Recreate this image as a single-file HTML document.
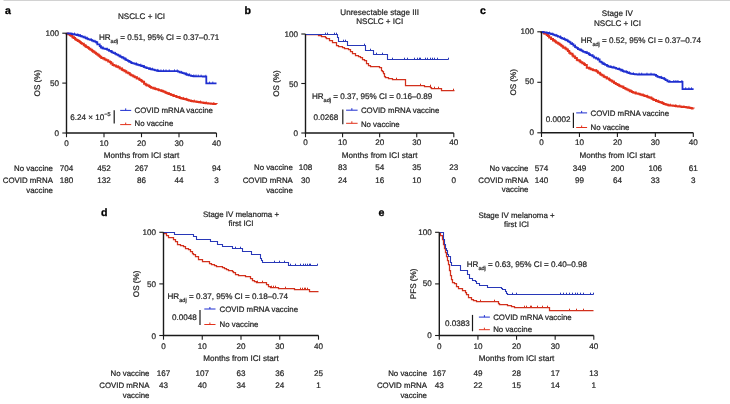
<!DOCTYPE html>
<html><head><meta charset="utf-8"><style>
html,body{margin:0;padding:0;background:#fff;width:730px;height:404px;overflow:hidden}
svg{display:block;text-rendering:geometricPrecision;filter:blur(0.2px)}
.t{font-family:"Liberation Sans", Arial, Helvetica, sans-serif;font-size:8.1px;fill:#262626;stroke:#262626;stroke-width:0.22px}
.lab{font-family:"Liberation Sans", Arial, Helvetica, sans-serif;font-size:10.6px;font-weight:bold;fill:#000;stroke:#000;stroke-width:0.3px}
.sub{font-size:5.6px}
.mid{text-anchor:middle}
.rl{font-size:7.85px}
.end{text-anchor:end}
</style></head><body>
<svg width="730" height="404" viewBox="0 0 730 404">
<rect x="0" y="0" width="730" height="404" fill="#fff"/>
<rect x="3.5" y="0" width="726.5" height="1" fill="#d2d2d2"/>
<g id="pa"><text x="5" y="13.8" class="lab">a</text>
<text x="141.5" y="19" class="t mid">NSCLC + ICI</text>
<text x="39.7" y="83.1" class="t mid" transform="rotate(-90 39.7 83.1)">OS (%)</text>
<path d="M66.5,33.2 66.5,33.52 68.19,33.52 68.19,34.32 69.82,34.32 69.82,34.9 70.7,34.9 70.7,35.2 70.7,35.66 72.43,35.66 72.43,37.24 73.64,37.24 73.64,37.95 75.1,37.95 75.1,38.6 75.1,39.23 76.33,39.23 76.33,39.94 77.72,39.94 77.72,41.07 79.52,41.07 79.52,42.1 80.7,42.1 80.7,42.5 80.7,43.03 81.8,43.03 81.8,43.8 83.79,43.8 83.79,45.14 85.23,45.14 85.23,46.14 86.3,46.14 86.3,46.4 86.3,47.06 87.8,47.06 87.8,47.66 88.96,47.66 88.96,48.79 90.41,48.79 90.41,49.66 91.9,49.66 91.9,50.3 91.9,50.79 92.94,50.79 92.94,51.84 94.64,51.84 94.64,52.69 95.98,52.69 95.98,53.75 97.4,53.75 97.4,54.2 97.4,54.69 98.62,54.69 98.62,55.77 99.85,55.77 99.85,56.87 101.3,56.87 101.3,57.5 101.3,58.08 103.09,58.08 103.09,58.58 104.59,58.58 104.59,59.43 106.3,59.43 106.3,59.8 106.3,60.2 108.2,60.2 108.2,61.44 109.96,61.44 109.96,62.06 110.8,62.06 110.8,62.5 110.8,63.41 112.66,63.41 112.66,64.89 114.1,64.89 114.1,65.3 114.1,65.56 115.87,65.56 115.87,66.31 116.69,66.31 116.69,66.82 118.23,66.82 118.23,67.22 119.7,67.22 119.7,67.6 119.7,68.59 121.79,68.59 121.79,69.66 123.08,69.66 123.08,70.23 124.5,70.23 124.5,70.9 124.5,71.33 126.27,71.33 126.27,72.62 128.19,72.62 128.19,73.32 129.78,73.32 129.78,74.44 131.1,74.44 131.1,74.8 131.1,75.19 132.64,75.19 132.64,75.63 133.49,75.63 133.49,76.51 134.86,76.51 134.86,77.24 136.7,77.24 136.7,77.6 136.7,78.51 139.14,78.51 139.14,79.39 140.14,79.39 140.14,80.05 141.41,80.05 141.41,80.88 142.3,80.88 142.3,81.2 142.3,81.75 144.08,81.75 144.08,83.72 145.74,83.72 145.74,84.63 146.7,84.63 146.7,85 146.7,85.51 148.97,85.51 148.97,86.18 150.09,86.18 150.09,87.05 151.15,87.05 151.15,87.72 153.4,87.72 153.4,88.2 153.4,88.57 155.31,88.57 155.31,88.9 156.17,88.9 156.17,89.31 158.17,89.31 158.17,89.78 159,89.78 159,89.9 159,90.27 161.33,90.27 161.33,90.91 162.59,90.91 162.59,91.36 163.62,91.36 163.62,91.85 165.3,91.85 165.3,92.3 165.3,92.46 166.36,92.46 166.36,92.98 167.58,92.98 167.58,93.39 168.8,93.39 168.8,94.07 170.7,94.07 170.7,94.5 170.7,94.68 171.61,94.68 171.61,94.99 172.93,94.99 172.93,95.46 173.83,95.46 173.83,96.11 176,96.11 176,96.4 176,96.62 176.85,96.62 176.85,96.97 178.7,96.97 178.7,97.52 180.01,97.52 180.01,98.01 181.4,98.01 181.4,98.2 181.4,98.44 183.02,98.44 183.02,98.73 183.93,98.73 183.93,99.03 185.39,99.03 185.39,99.35 186.7,99.35 186.7,99.6 186.7,99.68 187.76,99.68 187.76,99.95 188.73,99.95 188.73,100.52 190.82,100.52 190.82,100.99 192.1,100.99 192.1,101.1 192.1,101.21 193.88,101.21 193.88,101.38 195.07,101.38 195.07,101.56 196.19,101.56 196.19,101.7 197.4,101.7 197.4,101.8 197.4,101.99 199.07,101.99 199.07,102.2 200.75,102.2 200.75,102.44 201.95,102.44 201.95,102.57 202.8,102.57 202.8,102.7 202.8,102.79 204.11,102.79 204.11,102.93 205.56,102.93 205.56,103.14 207.06,103.14 207.06,103.3 208.1,103.3 208.1,103.4 208.1,103.47 209.77,103.47 209.77,103.59 210.77,103.59 210.77,103.67 211.74,103.67 211.74,103.77 213.23,103.77 213.23,103.9 214.59,103.9 214.59,104.01 216.6,104.01 216.6,104.1" fill="none" stroke="#e2321c" stroke-width="2.0" stroke-linejoin="miter"/>
<path d="M74.5,38.14v-1.8M79.16,41.43v-1.8M86.17,46.31v-1.8M94.02,51.81v-1.8M99,55.56v-1.8M104.01,58.75v-1.8M111.75,63.3v-1.8M118.37,67.05v-1.8M122.22,69.33v-1.8M125.85,71.7v-1.8M129.61,73.92v-1.8M137.13,77.88v-1.8M144.17,82.81v-1.8M147.9,85.57v-1.8M155.03,88.69v-1.8M162.93,91.4v-1.8M169.22,93.9v-1.8M173.97,95.67v-1.8M179.71,97.64v-1.8M183.37,98.72v-1.8M186.44,99.53v-1.8M194.29,101.39v-1.8M200.54,102.32v-1.8M206.18,103.15v-1.8M213.84,103.87v-1.8" stroke="#e2321c" stroke-width="0.9" fill="none"/>
<path d="M66.5,33.2 66.5,33.28 67.81,33.28 67.81,33.36 68.92,33.36 68.92,33.52 70.7,33.52 70.7,33.6 70.7,33.7 71.94,33.7 71.94,34.1 73.61,34.1 73.61,34.29 75.1,34.29 75.1,34.5 75.1,34.68 76.56,34.68 76.56,35.02 78.56,35.02 78.56,35.5 79.6,35.5 79.6,35.6 79.6,35.78 80.93,35.78 80.93,36.27 82.06,36.27 82.06,36.68 83.5,36.68 83.5,36.9 83.5,37.3 84.75,37.3 84.75,37.68 85.85,37.68 85.85,38.31 87.4,38.31 87.4,38.6 87.4,38.9 88.27,38.9 88.27,39.37 90.13,39.37 90.13,39.9 91.9,39.9 91.9,40.3 91.9,40.63 93.41,40.63 93.41,41.33 95.41,41.33 95.41,41.97 96.3,41.97 96.3,42.3 96.3,42.51 97.34,42.51 97.34,44.36 99.7,44.36 99.7,45.8 99.7,46.03 100.76,46.03 100.76,47.51 102.4,47.51 102.4,48.3 102.4,48.42 103.49,48.42 103.49,48.56 104.93,48.56 104.93,48.79 106.3,48.79 106.3,48.9 106.3,49.04 107.34,49.04 107.34,49.81 109.03,49.81 109.03,50.8 110.8,50.8 110.8,51.4 110.8,51.51 111.95,51.51 111.95,52.33 113.5,52.33 113.5,53.13 115.2,53.13 115.2,53.92 116.4,53.92 116.4,54.2 116.4,54.72 118.07,54.72 118.07,55.32 119.44,55.32 119.44,56.33 120.61,56.33 120.61,56.95 121.9,56.95 121.9,57.2 121.9,57.66 123.64,57.66 123.64,58.5 125.27,58.5 125.27,59.53 126.4,59.53 126.4,59.8 126.4,60.06 127.78,60.06 127.78,60.97 129.17,60.97 129.17,61.78 130.9,61.78 130.9,62.5 130.9,62.56 131.95,62.56 131.95,63.12 133.32,63.12 133.32,63.47 134.58,63.47 134.58,63.84 136.4,63.84 136.4,64.2 136.4,64.48 137.76,64.48 137.76,64.95 139.3,64.95 139.3,65.31 140.87,65.31 140.87,65.73 142,65.73 142,65.9 142,66 142.98,66 142.98,66.35 143.99,66.35 143.99,67.08 145.4,67.08 145.4,67.49 146.68,67.49 146.68,68.07 148.9,68.07 148.9,68.6 148.9,68.84 150.33,68.84 150.33,69.08 151.06,69.08 151.06,69.27 152.47,69.27 152.47,69.72 154.5,69.72 154.5,70 154.5,70.07 155.38,70.07 155.38,70.33 157.05,70.33 157.05,70.74 158.41,70.74 158.41,71.09 160.1,71.09 160.1,71.2 166,71.2 178,71.2 178,71.67 179.68,71.67 179.68,72.34 181.3,72.34 181.3,72.6 181.3,72.68 182.53,72.68 182.53,73.12 184.25,73.12 184.25,73.64 185.7,73.64 185.7,73.9 185.7,74.23 186.87,74.23 186.87,74.76 188.7,74.76 188.7,75.45 190.94,75.45 190.94,75.91 192.4,75.91 192.4,76.2 192.4,76.22 193.53,76.22 193.53,76.24 194.67,76.24 194.67,76.28 195.77,76.28 195.77,76.32 196.88,76.32 196.88,76.36 198.64,76.36 198.64,76.42 200.84,76.42 200.84,76.47 202.95,76.47 202.95,76.52 204.49,76.52 204.49,76.58 206.3,76.58 206.3,76.6 206.3,83.4 216.5,83.4" fill="none" stroke="#1f2fd0" stroke-width="1.8" stroke-linejoin="miter"/>
<path d="M74.5,34.38v-1.8M77.8,35.16v-1.8M80.4,35.87v-1.8M85,37.55v-1.8M87.29,38.55v-1.8M91.44,40.12v-1.8M94.9,41.66v-1.8M97.13,43.15v-1.8M101.16,47.15v-1.8M103.31,48.44v-1.8M107.04,49.31v-1.8M109.32,50.58v-1.8M111.69,51.84v-1.8M115.39,53.69v-1.8M120.69,56.54v-1.8M123.19,57.94v-1.8M126.08,59.62v-1.8M130.59,62.31v-1.8M136.38,64.19v-1.8M140.69,65.5v-1.8M144.28,66.79v-1.8M150.18,68.92v-1.8M152.37,69.47v-1.8M157.8,70.71v-1.8M160.96,71.2v-1.8M163.54,71.2v-1.8M166.01,71.2v-1.8M169.24,71.2v-1.8M174.51,71.2v-1.8M177.23,71.2v-1.8M181.56,72.68v-1.8M186.11,74.04v-1.8M189.6,75.24v-1.8M193.79,76.24v-1.8M196.04,76.3v-1.8M198.28,76.37v-1.8M201.11,76.45v-1.8M205.83,76.59v-1.8M209.54,83.4v-1.8M212.79,83.4v-1.8" stroke="#1f2fd0" stroke-width="0.9" fill="none"/>
<path d="M66.5,33.2V133H216.5" fill="none" stroke="#1a1a1a" stroke-width="1.4"/>
<path d="M62.3,133H66.5" stroke="#1a1a1a" stroke-width="1.1"/>
<text x="59" y="136" class="t end">0</text>
<path d="M62.3,83.1H66.5" stroke="#1a1a1a" stroke-width="1.1"/>
<text x="59" y="86.1" class="t end">50</text>
<path d="M62.3,33.2H66.5" stroke="#1a1a1a" stroke-width="1.1"/>
<text x="59" y="36.2" class="t end">100</text>
<path d="M66.5,133V137.2" stroke="#1a1a1a" stroke-width="1.1"/>
<text x="66.5" y="145.6" class="t mid">0</text>
<text x="66.5" y="170.5" class="t mid">704</text>
<text x="66.5" y="182.7" class="t mid">180</text>
<path d="M104,133V137.2" stroke="#1a1a1a" stroke-width="1.1"/>
<text x="104" y="145.6" class="t mid">10</text>
<text x="104" y="170.5" class="t mid">452</text>
<text x="104" y="182.7" class="t mid">132</text>
<path d="M141.5,133V137.2" stroke="#1a1a1a" stroke-width="1.1"/>
<text x="141.5" y="145.6" class="t mid">20</text>
<text x="141.5" y="170.5" class="t mid">267</text>
<text x="141.5" y="182.7" class="t mid">86</text>
<path d="M179,133V137.2" stroke="#1a1a1a" stroke-width="1.1"/>
<text x="179" y="145.6" class="t mid">30</text>
<text x="179" y="170.5" class="t mid">151</text>
<text x="179" y="182.7" class="t mid">44</text>
<path d="M216.5,133V137.2" stroke="#1a1a1a" stroke-width="1.1"/>
<text x="216.5" y="145.6" class="t mid">40</text>
<text x="216.5" y="170.5" class="t mid">94</text>
<text x="216.5" y="182.7" class="t mid">3</text>
<text x="141.5" y="157.8" class="t mid">Months from ICI start</text>
<text x="52.9" y="170.5" class="t end rl">No vaccine</text>
<text x="52.9" y="182.7" class="t end rl">COVID mRNA</text>
<text x="52.9" y="192.6" class="t end rl">vaccine</text>
<text x="98.9" y="39.6" class="t">HR<tspan class="sub" dy="3">adj</tspan><tspan dy="-3"> = 0.51, 95% CI = 0.37–0.71</tspan></text>
<text x="70.2" y="119.8" class="t">6.24 × 10<tspan class="sub" dy="-4.2">−5</tspan></text>
<path d="M114.2,110.2V123.4" stroke="#1a1a1a" stroke-width="1.2"/>
<path d="M120.2,110.4H131.2M125.7,110.4v-2" fill="none" stroke="#1f2fd0" stroke-width="1"/>
<path d="M120.2,124.6H131.2M125.7,124.6v-2" fill="none" stroke="#e2321c" stroke-width="1"/>
<text x="134.5" y="113" class="t rl">COVID mRNA vaccine</text>
<text x="134.5" y="126.3" class="t rl">No vaccine</text></g>
<g id="pb"><text x="244.5" y="14" class="lab">b</text>
<text x="379.65" y="14.6" class="t mid">Unresectable stage III</text>
<text x="379.65" y="23.6" class="t mid">NSCLC + ICI</text>
<text x="279" y="83.5" class="t mid" transform="rotate(-90 279 83.5)">OS (%)</text>
<path d="M305.5,34.5 318.5,34.5 318.5,35.5 320.5,35.5 320.5,35.5 320.5,35.5 321.5,35.5 321.5,36.5 325.5,36.5 325.5,36.5 325.5,37.5 326.5,37.5 326.5,37.5 326.5,38.5 329.5,38.5 329.5,39.5 329.5,40.5 332.5,40.5 332.5,41.5 332.5,42.5 336.5,42.5 336.5,43.5 336.5,45.5 338.5,45.5 338.5,46.5 338.5,46.5 340.5,46.5 340.5,46.5 342.5,46.5 342.5,46.5 342.5,47.5 344.5,47.5 344.5,48.5 344.5,48.5 346.5,48.5 346.5,48.5 348.5,48.5 348.5,49.5 348.5,49.5 350.5,49.5 350.5,50.5 350.5,51.5 352.5,51.5 352.5,52.5 352.5,53.5 355.5,53.5 355.5,55.5 355.5,55.5 358.5,55.5 358.5,56.5 358.5,56.5 360.5,56.5 360.5,57.5 362.5,57.5 362.5,58.5 362.5,59.5 364.5,59.5 364.5,60.5 364.5,60.5 366.5,60.5 366.5,62.5 366.5,63.5 368.5,63.5 368.5,64.5 368.5,65.5 370.5,65.5 370.5,66.5 372.5,66.5 372.5,66.5 379.5,66.5 379.5,67.5 381.5,67.5 381.5,68.5 381.5,70.5 382.5,70.5 382.5,71.5 382.5,71.5 383.5,71.5 383.5,73.5 384.5,73.5 384.5,75.5 384.5,76.5 385.5,76.5 385.5,76.5 385.5,77.5 388.5,77.5 388.5,77.5 388.5,78.5 392.5,78.5 392.5,79.5 405.5,79.5 405.5,85.5 423.5,85.5 423.5,85.5 424.5,85.5 424.5,86.5 430.5,86.5 430.5,87.5 431.5,87.5 431.5,88.5 441.5,88.5 441.5,90.5 454.5,90.5" fill="none" stroke="#d2301c" stroke-width="1.25" stroke-linejoin="miter"/>
<path d="M396.5,79.5v-1.8M420.5,85.5v-1.8M430.5,86.5v-1.8M434.5,88.5v-1.8M438.5,88.5v-1.8M453.5,90.5v-1.8" stroke="#d2301c" stroke-width="1" fill="none"/>
<path d="M305.5,34.5 337.5,34.5 337.5,37.5 338.5,37.5 338.5,41.5 347.5,41.5 347.5,45.5 365.5,45.5 365.5,50.5 373.5,50.5 373.5,54.5 387.5,54.5 387.5,59.5 448.5,59.5" fill="none" stroke="#2838b8" stroke-width="1.1" stroke-linejoin="miter"/>
<path d="M325.5,34.5v-1.8M327.5,34.5v-1.8M334.5,34.5v-1.8M336.5,34.5v-1.8M343.5,41.5v-1.8M345.5,41.5v-1.8M364.5,45.5v-1.8M370.5,50.5v-1.8M376.5,54.5v-1.8M382.5,54.5v-1.8M392.5,59.5v-1.8M404.5,59.5v-1.8M407.5,59.5v-1.8M414.5,59.5v-1.8M417.5,59.5v-1.8M419.5,59.5v-1.8M420.5,59.5v-1.8M425.5,59.5v-1.8M427.5,59.5v-1.8M430.5,59.5v-1.8M432.5,59.5v-1.8M434.5,59.5v-1.8M437.5,59.5v-1.8M448.5,59.5v-1.8" stroke="#2838b8" stroke-width="1" fill="none"/>
<path d="M305.5,34V133H453.8" fill="none" stroke="#1a1a1a" stroke-width="1.4"/>
<path d="M301.3,133H305.5" stroke="#1a1a1a" stroke-width="1.1"/>
<text x="298" y="136.2" class="t end">0</text>
<path d="M301.3,83.5H305.5" stroke="#1a1a1a" stroke-width="1.1"/>
<text x="298" y="86.7" class="t end">50</text>
<path d="M301.3,34H305.5" stroke="#1a1a1a" stroke-width="1.1"/>
<text x="298" y="37.2" class="t end">100</text>
<path d="M305.5,133V137.2" stroke="#1a1a1a" stroke-width="1.1"/>
<text x="305.5" y="145.4" class="t mid">0</text>
<text x="305.5" y="170.3" class="t mid">108</text>
<text x="305.5" y="182.6" class="t mid">30</text>
<path d="M342.57,133V137.2" stroke="#1a1a1a" stroke-width="1.1"/>
<text x="342.57" y="145.4" class="t mid">10</text>
<text x="342.57" y="170.3" class="t mid">83</text>
<text x="342.57" y="182.6" class="t mid">24</text>
<path d="M379.65,133V137.2" stroke="#1a1a1a" stroke-width="1.1"/>
<text x="379.65" y="145.4" class="t mid">20</text>
<text x="379.65" y="170.3" class="t mid">54</text>
<text x="379.65" y="182.6" class="t mid">16</text>
<path d="M416.73,133V137.2" stroke="#1a1a1a" stroke-width="1.1"/>
<text x="416.73" y="145.4" class="t mid">30</text>
<text x="416.73" y="170.3" class="t mid">35</text>
<text x="416.73" y="182.6" class="t mid">10</text>
<path d="M453.8,133V137.2" stroke="#1a1a1a" stroke-width="1.1"/>
<text x="453.8" y="145.4" class="t mid">40</text>
<text x="453.8" y="170.3" class="t mid">23</text>
<text x="453.8" y="182.6" class="t mid">0</text>
<text x="379.65" y="157.7" class="t mid">Months from ICI start</text>
<text x="292.8" y="170.3" class="t end rl">No vaccine</text>
<text x="292.8" y="182.6" class="t end rl">COVID mRNA</text>
<text x="292.8" y="192.7" class="t end rl">vaccine</text>
<text x="311.9" y="98.7" class="t">HR<tspan class="sub" dy="3">adj</tspan><tspan dy="-3"> = 0.37, 95% CI = 0.16–0.89</tspan></text>
<text x="313.5" y="120.1" class="t">0.0268</text>
<path d="M342.8,109.4V124.2" stroke="#1a1a1a" stroke-width="1.2"/>
<path d="M346.1,110.2H357.6M351.85,110.2v-2" fill="none" stroke="#1f2fd0" stroke-width="1"/>
<path d="M346.1,123.3H357.6M351.85,123.3v-2" fill="none" stroke="#e2321c" stroke-width="1"/>
<text x="360.9" y="112.7" class="t rl">COVID mRNA vaccine</text>
<text x="360.9" y="126.6" class="t rl">No vaccine</text></g>
<g id="pc"><text x="480.1" y="13.9" class="lab">c</text>
<text x="617.4" y="15.6" class="t mid">Stage IV</text>
<text x="617.4" y="25.8" class="t mid">NSCLC + ICI</text>
<text x="516.2" y="82.3" class="t mid" transform="rotate(-90 516.2 82.3)">OS (%)</text>
<path d="M541.5,31.8 541.5,32.27 544.02,32.27 544.02,33.41 545.15,33.41 545.15,33.7 546.7,33.7 546.7,34.2 546.7,35 547.91,35 547.91,36.07 549.14,36.07 549.14,37.38 551.1,37.38 551.1,38.1 551.1,39.1 552.99,39.1 552.99,40.48 554.79,40.48 554.79,41.22 555.84,41.22 555.84,42.35 556.7,42.35 556.7,42.6 556.7,42.84 558.21,42.84 558.21,43.84 559.72,43.84 559.72,44.74 561.15,44.74 561.15,45.75 562.3,45.75 562.3,45.9 562.3,46.47 563.26,46.47 563.26,47.75 565.5,47.75 565.5,48.87 566.59,48.87 566.59,49.62 567.9,49.62 567.9,50.4 567.9,50.99 569.25,50.99 569.25,52.67 570.46,52.67 570.46,53.69 572.44,53.69 572.44,55.45 573.4,55.45 573.4,56 573.4,56.46 575.13,56.46 575.13,58.11 576.8,58.11 576.8,59.3 576.8,59.71 577.58,59.71 577.58,60.32 579.54,60.32 579.54,61.22 580.58,61.22 580.58,62.36 582.3,62.36 582.3,62.7 582.3,63.19 583.92,63.19 583.92,64.17 585.03,64.17 585.03,65.08 586.8,65.08 586.8,66 586.8,67.63 589,67.63 589,68.3 589,68.52 590.65,68.52 590.65,69.25 592.74,69.25 592.74,69.89 593.5,69.89 593.5,69.9 593.5,70.17 595.55,70.17 595.55,70.77 596.8,70.77 596.8,71 596.8,71.61 598.04,71.61 598.04,72.84 599.82,72.84 599.82,73.84 600.67,73.84 600.67,74.72 602.3,74.72 602.3,75.3 602.3,75.6 603.76,75.6 603.76,76.72 605.2,76.72 605.2,77.37 606.72,77.37 606.72,78.42 608.98,78.42 608.98,79.38 610,79.38 610,79.9 610,80.18 611.28,80.18 611.28,80.79 612.29,80.79 612.29,81.65 614.1,81.65 614.1,82.89 615.78,82.89 615.78,84.05 617.6,84.05 617.6,84.5 617.6,84.97 619.09,84.97 619.09,85.68 620.25,85.68 620.25,86.27 621.69,86.27 621.69,86.87 623.45,86.87 623.45,88.06 625.3,88.06 625.3,88.4 625.3,88.63 626.61,88.63 626.61,89.38 628.37,89.38 628.37,90.14 629.81,90.14 629.81,91.27 631.85,91.27 631.85,91.95 633,91.95 633,92.2 633,92.46 634.27,92.46 634.27,92.83 635.64,92.83 635.64,93.46 637.93,93.46 637.93,93.84 639.48,93.84 639.48,94.32 640.6,94.32 640.6,94.5 640.6,94.69 642.48,94.69 642.48,95.27 644.39,95.27 644.39,96.04 646.4,96.04 646.4,96.37 647.17,96.37 647.17,96.73 648.3,96.73 648.3,96.8 648.3,97.29 649.59,97.29 649.59,97.78 651.6,97.78 651.6,98.81 653,98.81 653,99.44 654.12,99.44 654.12,100.03 656,100.03 656,100.6 656,100.97 657.78,100.97 657.78,101.56 659.1,101.56 659.1,101.96 660.55,101.96 660.55,102.47 662.1,102.47 662.1,102.9 662.1,103.09 663.54,103.09 663.54,103.91 665.59,103.91 665.59,104.46 666.79,104.46 666.79,104.81 668.2,104.81 668.2,105.2 668.2,105.23 669.28,105.23 669.28,105.41 670.89,105.41 670.89,105.57 672.78,105.57 672.78,105.77 674.84,105.77 674.84,105.93 675.9,105.93 675.9,106 675.9,106.13 678.05,106.13 678.05,106.39 679.25,106.39 679.25,106.58 680.83,106.58 680.83,106.7 682.1,106.7 682.1,106.8 682.1,106.91 683.46,106.91 683.46,107.09 685.85,107.09 685.85,107.34 687.22,107.34 687.22,107.44 688.2,107.44 688.2,107.5 688.2,107.72 690.32,107.72 690.32,108.1 691.79,108.1 691.79,108.39 692.81,108.39 692.81,108.46 693.6,108.46 693.6,108.6" fill="none" stroke="#e2321c" stroke-width="2.0" stroke-linejoin="miter"/>
<path d="M549.5,36.68v-1.8M554.6,40.91v-1.8M558.89,43.89v-1.8M565.22,48.25v-1.8M572.85,55.44v-1.8M576.98,59.41v-1.8M580.15,61.37v-1.8M584.84,64.57v-1.8M589.95,68.64v-1.8M596.36,70.85v-1.8M600.35,73.78v-1.8M607.33,78.31v-1.8M614.03,82.34v-1.8M619.55,85.49v-1.8M623.58,87.53v-1.8M631.43,91.43v-1.8M635.99,93.1v-1.8M643.09,95.24v-1.8M647.24,96.48v-1.8M651.35,98.31v-1.8M658.15,101.41v-1.8M662.63,103.1v-1.8M670.39,105.43v-1.8M675.87,106v-1.8M679.8,106.5v-1.8M683.92,107.01v-1.8M689,107.66v-1.8" stroke="#e2321c" stroke-width="0.9" fill="none"/>
<path d="M541.5,31.8 541.5,31.96 543.1,31.96 543.1,32.29 545.72,32.29 545.72,32.47 546.7,32.47 546.7,32.6 546.7,32.78 548.25,32.78 548.25,33.23 549.57,33.23 549.57,33.65 551.1,33.65 551.1,33.9 551.1,34.16 553.02,34.16 553.02,34.64 554.41,34.64 554.41,35.05 555.51,35.05 555.51,35.58 556.7,35.58 556.7,35.7 556.7,35.96 557.88,35.96 557.88,36.57 560.03,36.57 560.03,37.33 561.15,37.33 561.15,37.99 562.3,37.99 562.3,38.1 562.3,38.62 563.78,38.62 563.78,39.21 565.18,39.21 565.18,39.92 566.39,39.92 566.39,40.36 567.9,40.36 567.9,40.9 567.9,41.32 569.38,41.32 569.38,42.13 570.52,42.13 570.52,43.5 572.03,43.5 572.03,44.13 573.4,44.13 573.4,44.8 573.4,45.68 575.07,45.68 575.07,47.19 576.53,47.19 576.53,47.95 577.9,47.95 577.9,48.7 577.9,49.1 579.59,49.1 579.59,49.76 580.76,49.76 580.76,50.47 582.3,50.47 582.3,51 582.3,51.11 583.32,51.11 583.32,51.83 585.36,51.83 585.36,52.48 586.8,52.48 586.8,52.6 586.8,53.13 588.71,53.13 588.71,54.27 590,54.27 590,55 590,55.14 591.41,55.14 591.41,55.44 592.4,55.44 592.4,55.6 592.4,56.38 594.01,56.38 594.01,57.55 596.1,57.55 596.1,58.4 596.1,58.6 597.9,58.6 597.9,58.8 597.9,59.5 599.63,59.5 599.63,61.71 601.29,61.71 601.29,62.46 602.4,62.46 602.4,63.3 602.4,63.5 603.69,63.5 603.69,64.16 605.15,64.16 605.15,64.9 606.9,64.9 606.9,65.4 606.9,65.97 608.4,65.97 608.4,66.6 608.4,66.65 609.79,66.65 609.79,66.82 611.08,66.82 611.08,67.04 612.4,67.04 612.4,67.1 612.4,67.51 614.58,67.51 614.58,67.97 616.1,67.97 616.1,68.4 616.1,68.69 618,68.69 618,68.8 618,69.01 619.57,69.01 619.57,69.68 621.17,69.68 621.17,70.48 622.91,70.48 622.91,71.07 623.8,71.07 623.8,71.2 623.8,71.52 625.62,71.52 625.62,71.96 627.16,71.96 627.16,72.67 628.6,72.67 628.6,73.05 630.19,73.05 630.19,73.7 631.4,73.7 631.4,73.8 631.4,73.93 633.53,73.93 633.53,74.14 635.03,74.14 635.03,74.24 636.2,74.24 636.2,74.38 637.6,74.38 637.6,74.5 654.4,74.5 654.4,74.91 655.91,74.91 655.91,75.78 657.5,75.78 657.5,76.4 657.5,76.84 659.49,76.84 659.49,77.24 660.41,77.24 660.41,77.69 661.86,77.69 661.86,78.11 663.6,78.11 663.6,78.4 663.6,78.62 664.56,78.62 664.56,79.11 665.53,79.11 665.53,80.21 667.43,80.21 667.43,81.38 669,81.38 669,81.8 682.5,81.8 682.5,89.1 693.6,89.1" fill="none" stroke="#1f2fd0" stroke-width="1.8" stroke-linejoin="miter"/>
<path d="M549.5,33.43v-1.8M552.66,34.4v-1.8M556.73,35.71v-1.8M560.59,37.37v-1.8M564.45,39.18v-1.8M566.93,40.41v-1.8M572.5,44.16v-1.8M575.3,46.45v-1.8M581.21,50.43v-1.8M586.96,52.72v-1.8M589.03,54.27v-1.8M592.86,55.95v-1.8M598.14,59.04v-1.8M604.01,64.05v-1.8M607.81,66.13v-1.8M610.89,66.91v-1.8M613.73,67.57v-1.8M619.51,69.42v-1.8M622.35,70.6v-1.8M626.68,72.18v-1.8M629.24,73.06v-1.8M633.34,74.02v-1.8M639.15,74.5v-1.8M641.68,74.5v-1.8M646.96,74.5v-1.8M651,74.5v-1.8M656.55,75.81v-1.8M661.36,77.67v-1.8M664.28,78.83v-1.8M669.88,81.8v-1.8M673.82,81.8v-1.8M675.92,81.8v-1.8M677.93,81.8v-1.8M681.9,81.8v-1.8M685.7,89.1v-1.8M688.91,89.1v-1.8M691.47,89.1v-1.8" stroke="#1f2fd0" stroke-width="0.9" fill="none"/>
<path d="M541.5,31.8V132.8H693.3" fill="none" stroke="#1a1a1a" stroke-width="1.4"/>
<path d="M537.3,132.8H541.5" stroke="#1a1a1a" stroke-width="1.1"/>
<text x="534" y="134.7" class="t end">0</text>
<path d="M537.3,82.3H541.5" stroke="#1a1a1a" stroke-width="1.1"/>
<text x="534" y="84.2" class="t end">50</text>
<path d="M537.3,31.8H541.5" stroke="#1a1a1a" stroke-width="1.1"/>
<text x="534" y="33.7" class="t end">100</text>
<path d="M541.5,132.8V137" stroke="#1a1a1a" stroke-width="1.1"/>
<text x="541.5" y="145.1" class="t mid">0</text>
<text x="541.5" y="171" class="t mid">574</text>
<text x="541.5" y="183" class="t mid">140</text>
<path d="M579.45,132.8V137" stroke="#1a1a1a" stroke-width="1.1"/>
<text x="579.45" y="145.1" class="t mid">10</text>
<text x="579.45" y="171" class="t mid">349</text>
<text x="579.45" y="183" class="t mid">99</text>
<path d="M617.4,132.8V137" stroke="#1a1a1a" stroke-width="1.1"/>
<text x="617.4" y="145.1" class="t mid">20</text>
<text x="617.4" y="171" class="t mid">200</text>
<text x="617.4" y="183" class="t mid">64</text>
<path d="M655.35,132.8V137" stroke="#1a1a1a" stroke-width="1.1"/>
<text x="655.35" y="145.1" class="t mid">30</text>
<text x="655.35" y="171" class="t mid">106</text>
<text x="655.35" y="183" class="t mid">33</text>
<path d="M693.3,132.8V137" stroke="#1a1a1a" stroke-width="1.1"/>
<text x="693.3" y="145.1" class="t mid">40</text>
<text x="693.3" y="171" class="t mid">61</text>
<text x="693.3" y="183" class="t mid">3</text>
<text x="617.4" y="157.7" class="t mid">Months from ICI start</text>
<text x="528.4" y="171" class="t end rl">No vaccine</text>
<text x="528.4" y="183" class="t end rl">COVID mRNA</text>
<text x="528.4" y="192.4" class="t end rl">vaccine</text>
<text x="580.7" y="43.4" class="t">HR<tspan class="sub" dy="3">adj</tspan><tspan dy="-3"> = 0.52, 95% CI = 0.37–0.74</tspan></text>
<text x="545.7" y="122" class="t">0.0002</text>
<path d="M573.4,112.7V128" stroke="#1a1a1a" stroke-width="1.2"/>
<path d="M576.2,112.9H587.1M581.65,112.9v-2" fill="none" stroke="#1f2fd0" stroke-width="1"/>
<path d="M576.2,127.5H587.1M581.65,127.5v-2" fill="none" stroke="#e2321c" stroke-width="1"/>
<text x="590.6" y="116" class="t rl">COVID mRNA vaccine</text>
<text x="590.6" y="129.7" class="t rl">No vaccine</text></g>
<g id="pd"><text x="100.9" y="215.9" class="lab">d</text>
<text x="241" y="217.1" class="t mid" style="font-size:7.9px">Stage IV melanoma +</text>
<text x="241" y="225.5" class="t mid" style="font-size:7.9px">first ICI</text>
<text x="138.8" y="283.9" class="t mid" transform="rotate(-90 138.8 283.9)">OS (%)</text>
<path d="M163.5,232.5 163.5,233.5 166.5,233.5 166.5,235.5 168.5,235.5 168.5,236.5 168.5,237.5 170.5,237.5 170.5,237.5 173.5,237.5 173.5,238.5 173.5,239.5 175.5,239.5 175.5,241.5 177.5,241.5 177.5,242.5 177.5,244.5 180.5,244.5 180.5,245.5 180.5,245.5 183.5,245.5 183.5,246.5 185.5,246.5 185.5,246.5 185.5,248.5 188.5,248.5 188.5,248.5 188.5,249.5 190.5,249.5 190.5,251.5 192.5,251.5 192.5,252.5 192.5,253.5 193.5,253.5 193.5,254.5 195.5,254.5 195.5,255.5 195.5,256.5 198.5,256.5 198.5,258.5 198.5,259.5 202.5,259.5 202.5,261.5 206.5,261.5 206.5,261.5 209.5,261.5 209.5,263.5 211.5,263.5 211.5,263.5 211.5,264.5 214.5,264.5 214.5,265.5 215.5,265.5 215.5,265.5 215.5,265.5 216.5,265.5 216.5,266.5 219.5,266.5 219.5,266.5 219.5,266.5 222.5,266.5 222.5,267.5 224.5,267.5 224.5,268.5 224.5,268.5 226.5,268.5 226.5,269.5 228.5,269.5 228.5,269.5 228.5,270.5 232.5,270.5 232.5,271.5 233.5,271.5 233.5,271.5 233.5,272.5 235.5,272.5 235.5,274.5 238.5,274.5 238.5,275.5 243.5,275.5 243.5,275.5 245.5,275.5 245.5,276.5 248.5,276.5 248.5,276.5 248.5,276.5 250.5,276.5 250.5,276.5 250.5,278.5 252.5,278.5 252.5,279.5 252.5,280.5 254.5,280.5 254.5,281.5 254.5,281.5 256.5,281.5 256.5,282.5 266.5,282.5 266.5,283.5 266.5,284.5 268.5,284.5 268.5,285.5 268.5,286.5 270.5,286.5 270.5,287.5 278.5,287.5 278.5,288.5 294.5,288.5 294.5,289.5 309.5,289.5 309.5,291.5 318.5,291.5" fill="none" stroke="#d2301c" stroke-width="1.25" stroke-linejoin="miter"/>
<path d="M257.5,282.5v-1.8M262.5,282.5v-1.8M271.5,287.5v-1.8M273.5,287.5v-1.8M275.5,287.5v-1.8M285.5,288.5v-1.8M300.5,289.5v-1.8M302.5,289.5v-1.8M304.5,289.5v-1.8M305.5,289.5v-1.8M307.5,289.5v-1.8" stroke="#d2301c" stroke-width="1" fill="none"/>
<path d="M163.5,232.5 174.5,232.5 174.5,234.5 193.5,234.5 193.5,236.5 196.5,236.5 196.5,239.5 210.5,239.5 210.5,241.5 217.5,241.5 217.5,244.5 222.5,244.5 222.5,246.5 232.5,246.5 232.5,248.5 242.5,248.5 242.5,251.5 251.5,251.5 251.5,254.5 260.5,254.5 260.5,258.5 261.5,258.5 261.5,260.5 262.5,260.5 262.5,262.5 288.5,262.5 288.5,265.5 317.5,265.5" fill="none" stroke="#2838b8" stroke-width="1.1" stroke-linejoin="miter"/>
<path d="M235.5,248.5v-1.8M240.5,248.5v-1.8M274.5,262.5v-1.8M279.5,262.5v-1.8M284.5,262.5v-1.8M290.5,265.5v-1.8M295.5,265.5v-1.8M300.5,265.5v-1.8M303.5,265.5v-1.8M305.5,265.5v-1.8M307.5,265.5v-1.8M309.5,265.5v-1.8M310.5,265.5v-1.8M317.5,265.5v-1.8" stroke="#2838b8" stroke-width="1" fill="none"/>
<path d="M163.5,232.3V335.5H318.5" fill="none" stroke="#1a1a1a" stroke-width="1.4"/>
<path d="M159.3,335.5H163.5" stroke="#1a1a1a" stroke-width="1.1"/>
<text x="156" y="338.55" class="t end">0</text>
<path d="M159.3,283.9H163.5" stroke="#1a1a1a" stroke-width="1.1"/>
<text x="156" y="286.95" class="t end">50</text>
<path d="M159.3,232.3H163.5" stroke="#1a1a1a" stroke-width="1.1"/>
<text x="156" y="235.35" class="t end">100</text>
<path d="M163.5,335.5V339.7" stroke="#1a1a1a" stroke-width="1.1"/>
<text x="163.5" y="348.7" class="t mid">0</text>
<text x="163.5" y="375.7" class="t mid">167</text>
<text x="163.5" y="387.7" class="t mid">43</text>
<path d="M202.25,335.5V339.7" stroke="#1a1a1a" stroke-width="1.1"/>
<text x="202.25" y="348.7" class="t mid">10</text>
<text x="202.25" y="375.7" class="t mid">107</text>
<text x="202.25" y="387.7" class="t mid">40</text>
<path d="M241,335.5V339.7" stroke="#1a1a1a" stroke-width="1.1"/>
<text x="241" y="348.7" class="t mid">20</text>
<text x="241" y="375.7" class="t mid">63</text>
<text x="241" y="387.7" class="t mid">34</text>
<path d="M279.75,335.5V339.7" stroke="#1a1a1a" stroke-width="1.1"/>
<text x="279.75" y="348.7" class="t mid">30</text>
<text x="279.75" y="375.7" class="t mid">36</text>
<text x="279.75" y="387.7" class="t mid">24</text>
<path d="M318.5,335.5V339.7" stroke="#1a1a1a" stroke-width="1.1"/>
<text x="318.5" y="348.7" class="t mid">40</text>
<text x="318.5" y="375.7" class="t mid">25</text>
<text x="318.5" y="387.7" class="t mid">1</text>
<text x="241" y="360.5" class="t mid">Months from ICI start</text>
<text x="149.4" y="375.7" class="t end rl">No vaccine</text>
<text x="149.4" y="387.7" class="t end rl">COVID mRNA</text>
<text x="149.4" y="397.5" class="t end rl">vaccine</text>
<text x="167.5" y="298.9" class="t">HR<tspan class="sub" dy="3">adj</tspan><tspan dy="-3"> = 0.37, 95% CI = 0.18–0.74</tspan></text>
<text x="171.9" y="319.7" class="t">0.0048</text>
<path d="M200,309.9V325" stroke="#1a1a1a" stroke-width="1.2"/>
<path d="M204.3,309H215.5M209.9,309v-2" fill="none" stroke="#1f2fd0" stroke-width="1"/>
<path d="M204.3,324.5H215.5M209.9,324.5v-2" fill="none" stroke="#e2321c" stroke-width="1"/>
<text x="219.6" y="311.7" class="t rl">COVID mRNA vaccine</text>
<text x="219.6" y="326.9" class="t rl">No vaccine</text></g>
<g id="pe"><text x="378.6" y="215.7" class="lab">e</text>
<text x="516.55" y="218" class="t mid" style="font-size:7.9px">Stage IV melanoma +</text>
<text x="516.55" y="226.9" class="t mid" style="font-size:7.9px">first ICI</text>
<text x="415.8" y="283.9" class="t mid" transform="rotate(-90 415.8 283.9)">PFS (%)</text>
<path d="M439.5,232.5 439.5,232.5 440.5,232.5 440.5,232.5 440.5,233.5 440.5,233.5 440.5,235.5 442.5,235.5 442.5,238.5 442.5,238.5 442.5,238.5 442.5,239.5 443.5,239.5 443.5,242.5 443.5,242.5 443.5,244.5 444.5,244.5 444.5,246.5 444.5,246.5 444.5,247.5 444.5,248.5 445.5,248.5 445.5,250.5 445.5,250.5 445.5,252.5 446.5,252.5 446.5,254.5 446.5,254.5 446.5,255.5 446.5,256.5 447.5,256.5 447.5,258.5 447.5,258.5 447.5,260.5 448.5,260.5 448.5,262.5 448.5,262.5 448.5,264.5 449.5,264.5 449.5,266.5 449.5,267.5 449.5,267.5 449.5,270.5 450.5,270.5 450.5,271.5 450.5,272.5 450.5,272.5 450.5,275.5 451.5,275.5 451.5,277.5 451.5,277.5 451.5,279.5 452.5,279.5 452.5,281.5 452.5,281.5 452.5,281.5 452.5,282.5 454.5,282.5 454.5,283.5 456.5,283.5 456.5,285.5 456.5,286.5 458.5,286.5 458.5,288.5 460.5,288.5 460.5,288.5 460.5,288.5 462.5,288.5 462.5,289.5 462.5,290.5 465.5,290.5 465.5,292.5 465.5,292.5 466.5,292.5 466.5,294.5 468.5,294.5 468.5,296.5 468.5,297.5 471.5,297.5 471.5,298.5 471.5,299.5 473.5,299.5 473.5,299.5 473.5,300.5 476.5,300.5 476.5,301.5 495.5,301.5 495.5,301.5 498.5,301.5 498.5,303.5 498.5,303.5 499.5,303.5 499.5,304.5 504.5,304.5 504.5,304.5 507.5,304.5 507.5,304.5 507.5,305.5 511.5,305.5 511.5,305.5 511.5,306.5 514.5,306.5 514.5,306.5 514.5,307.5 516.5,307.5 516.5,307.5 549.5,307.5 549.5,310.5 593.5,310.5" fill="none" stroke="#d2301c" stroke-width="1.25" stroke-linejoin="miter"/>
<path d="M480.5,301.5v-1.8M494.5,301.5v-1.8M524.5,307.5v-1.8M526.5,307.5v-1.8M530.5,307.5v-1.8M531.5,307.5v-1.8M537.5,307.5v-1.8M542.5,307.5v-1.8M547.5,307.5v-1.8M569.5,310.5v-1.8M576.5,310.5v-1.8M583.5,310.5v-1.8" stroke="#d2301c" stroke-width="1" fill="none"/>
<path d="M439.5,232.5 443.5,232.5 443.5,233.5 443.5,233.5 443.5,235.5 443.5,235.5 443.5,238.5 443.5,238.5 443.5,239.5 444.5,239.5 444.5,241.5 444.5,241.5 444.5,241.5 444.5,244.5 445.5,244.5 445.5,246.5 445.5,246.5 445.5,248.5 446.5,248.5 446.5,249.5 446.5,250.5 447.5,250.5 447.5,254.5 448.5,254.5 448.5,255.5 448.5,256.5 450.5,256.5 450.5,257.5 450.5,258.5 450.5,258.5 450.5,260.5 450.5,260.5 450.5,261.5 450.5,262.5 451.5,262.5 451.5,263.5 451.5,263.5 451.5,265.5 460.5,265.5 460.5,270.5 467.5,270.5 467.5,271.5 467.5,271.5 467.5,272.5 467.5,274.5 469.5,274.5 469.5,275.5 469.5,276.5 469.5,276.5 469.5,277.5 469.5,278.5 472.5,278.5 472.5,279.5 472.5,280.5 475.5,280.5 475.5,280.5 475.5,281.5 476.5,281.5 476.5,282.5 476.5,283.5 478.5,283.5 478.5,283.5 478.5,283.5 479.5,283.5 479.5,285.5 487.5,285.5 487.5,287.5 501.5,287.5 501.5,288.5 502.5,288.5 502.5,289.5 502.5,289.5 505.5,289.5 505.5,289.5 505.5,291.5 506.5,291.5 506.5,292.5 506.5,293.5 507.5,293.5 507.5,294.5 593.5,294.5" fill="none" stroke="#2838b8" stroke-width="1.1" stroke-linejoin="miter"/>
<path d="M512.5,294.5v-1.8M516.5,294.5v-1.8M560.5,294.5v-1.8M563.5,294.5v-1.8M566.5,294.5v-1.8M569.5,294.5v-1.8M572.5,294.5v-1.8M575.5,294.5v-1.8M577.5,294.5v-1.8M580.5,294.5v-1.8M583.5,294.5v-1.8M590.5,294.5v-1.8M593.5,294.5v-1.8" stroke="#2838b8" stroke-width="1" fill="none"/>
<path d="M439.3,232.3V335.5H593.8" fill="none" stroke="#1a1a1a" stroke-width="1.4"/>
<path d="M435.1,335.5H439.3" stroke="#1a1a1a" stroke-width="1.1"/>
<text x="431.8" y="337.95" class="t end">0</text>
<path d="M435.1,283.9H439.3" stroke="#1a1a1a" stroke-width="1.1"/>
<text x="431.8" y="286.35" class="t end">50</text>
<path d="M435.1,232.3H439.3" stroke="#1a1a1a" stroke-width="1.1"/>
<text x="431.8" y="234.75" class="t end">100</text>
<path d="M439.3,335.5V339.7" stroke="#1a1a1a" stroke-width="1.1"/>
<text x="439.3" y="348.7" class="t mid">0</text>
<text x="439.3" y="375.7" class="t mid">167</text>
<text x="439.3" y="387.7" class="t mid">43</text>
<path d="M477.93,335.5V339.7" stroke="#1a1a1a" stroke-width="1.1"/>
<text x="477.93" y="348.7" class="t mid">10</text>
<text x="477.93" y="375.7" class="t mid">49</text>
<text x="477.93" y="387.7" class="t mid">22</text>
<path d="M516.55,335.5V339.7" stroke="#1a1a1a" stroke-width="1.1"/>
<text x="516.55" y="348.7" class="t mid">20</text>
<text x="516.55" y="375.7" class="t mid">28</text>
<text x="516.55" y="387.7" class="t mid">15</text>
<path d="M555.17,335.5V339.7" stroke="#1a1a1a" stroke-width="1.1"/>
<text x="555.17" y="348.7" class="t mid">30</text>
<text x="555.17" y="375.7" class="t mid">17</text>
<text x="555.17" y="387.7" class="t mid">14</text>
<path d="M593.8,335.5V339.7" stroke="#1a1a1a" stroke-width="1.1"/>
<text x="593.8" y="348.7" class="t mid">40</text>
<text x="593.8" y="375.7" class="t mid">13</text>
<text x="593.8" y="387.7" class="t mid">1</text>
<text x="516.55" y="360.5" class="t mid">Months from ICI start</text>
<text x="427" y="375.7" class="t end rl">No vaccine</text>
<text x="427" y="387.7" class="t end rl">COVID mRNA</text>
<text x="427" y="397.5" class="t end rl">vaccine</text>
<text x="466.7" y="266.9" class="t">HR<tspan class="sub" dy="3">adj</tspan><tspan dy="-3"> = 0.63, 95% CI = 0.40–0.98</tspan></text>
<text x="444.9" y="325.8" class="t">0.0383</text>
<path d="M472.5,314.9V331.3" stroke="#1a1a1a" stroke-width="1.2"/>
<path d="M478.9,317.1H489.9M484.4,317.1v-2" fill="none" stroke="#1f2fd0" stroke-width="1"/>
<path d="M478.9,329.7H489.9M484.4,329.7v-2" fill="none" stroke="#e2321c" stroke-width="1"/>
<text x="493.2" y="319.8" class="t rl">COVID mRNA vaccine</text>
<text x="493.2" y="332.4" class="t rl">No vaccine</text></g>
</svg>
</body></html>
